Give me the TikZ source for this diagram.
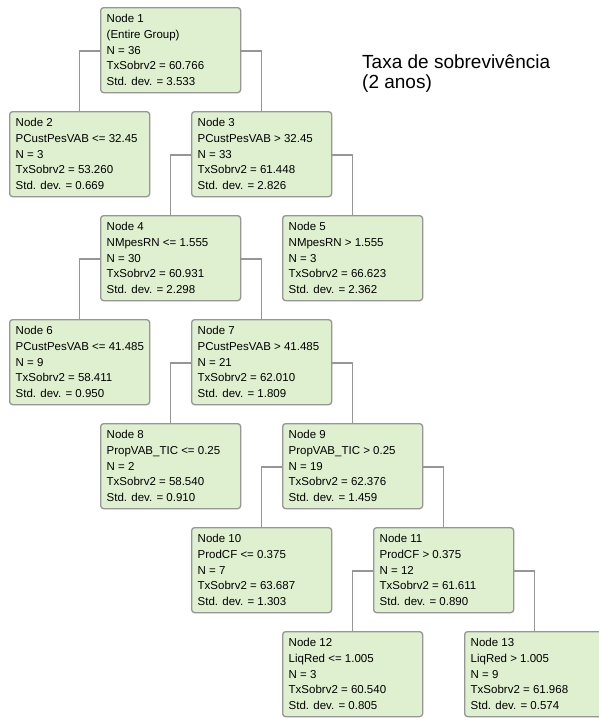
\documentclass[tikz,border=0pt]{standalone}
\usepackage{fontspec}
\setmainfont{Liberation Sans}
\definecolor{boxfill}{RGB}{223,240,208}
\definecolor{boxline}{RGB}{150,150,150}
\definecolor{connline}{RGB}{150,150,150}
\newcommand\treenode[4]{%
  \node[box] (#1) at (#2,#3) {};
  \node[txt] (#1t) at ([shift={(6.5pt,-7pt)}]#1.north west) {#4};
}
\begin{document}
\begin{tikzpicture}[x=1pt,y=-1pt,
  box/.style={draw=boxline, line width=1.3pt, fill=boxfill, rounded corners=3pt,
    minimum width=140pt, minimum height=85pt, anchor=north west, inner sep=0pt},
  txt/.style={anchor=north west, inner sep=0pt, align=left,
    font=\fontsize{11.5}{15.8}\selectfont},
  conn/.style={draw=connline, line width=1.5pt},
  titletext/.style={anchor=north west, inner sep=0pt, align=left,
    font=\fontsize{19}{20.5}\selectfont}]
\clip (0,0) rectangle (599,718);
\fill[white] (0,0) rectangle (599,718);

\treenode{n1}{100}{7}{Node 1\\(Entire Group)\\N = 36\\TxSobrv2 = 60.766\\Std. dev. = 3.533}
\treenode{n2}{9}{111}{Node 2\\PCustPesVAB <= 32.45\\N = 3\\TxSobrv2 = 53.260\\Std. dev. = 0.669}
\treenode{n3}{191}{111}{Node 3\\PCustPesVAB > 32.45\\N = 33\\TxSobrv2 = 61.448\\Std. dev. = 2.826}
\treenode{n4}{100}{215}{Node 4\\NMpesRN <= 1.555\\N = 30\\TxSobrv2 = 60.931\\Std. dev. = 2.298}
\treenode{n5}{282}{215}{Node 5\\NMpesRN > 1.555\\N = 3\\TxSobrv2 = 66.623\\Std. dev. = 2.362}
\treenode{n6}{9}{319}{Node 6\\PCustPesVAB <= 41.485\\N = 9\\TxSobrv2 = 58.411\\Std. dev. = 0.950}
\treenode{n7}{191}{319}{Node 7\\PCustPesVAB > 41.485\\N = 21\\TxSobrv2 = 62.010\\Std. dev. = 1.809}
\treenode{n8}{100}{423}{Node 8\\PropVAB\_TIC <= 0.25\\N = 2\\TxSobrv2 = 58.540\\Std. dev. = 0.910}
\treenode{n9}{282}{423}{Node 9\\PropVAB\_TIC > 0.25\\N = 19\\TxSobrv2 = 62.376\\Std. dev. = 1.459}
\treenode{n10}{191}{527}{Node 10\\ProdCF <= 0.375\\N = 7\\TxSobrv2 = 63.687\\Std. dev. = 1.303}
\treenode{n11}{373}{527}{Node 11\\ProdCF > 0.375\\N = 12\\TxSobrv2 = 61.611\\Std. dev. = 0.890}
\treenode{n12}{282}{631}{Node 12\\LiqRed <= 1.005\\N = 3\\TxSobrv2 = 60.540\\Std. dev. = 0.805}
\treenode{n13}{464}{631}{Node 13\\LiqRed > 1.005\\N = 9\\TxSobrv2 = 61.968\\Std. dev. = 0.574}

\foreach \p/\l/\r in {n1/n2/n3, n3/n4/n5, n4/n6/n7, n7/n8/n9, n9/n10/n11, n11/n12/n13}{
  \draw[conn] ([yshift=-44pt]\p.north west) -| (\l.north);
  \draw[conn] ([yshift=-44pt]\p.north east) -| (\r.north);
}

\node[titletext] (title) at (362,54) {Taxa de sobrevivência\\(2 anos)};
\end{tikzpicture}
\end{document}
